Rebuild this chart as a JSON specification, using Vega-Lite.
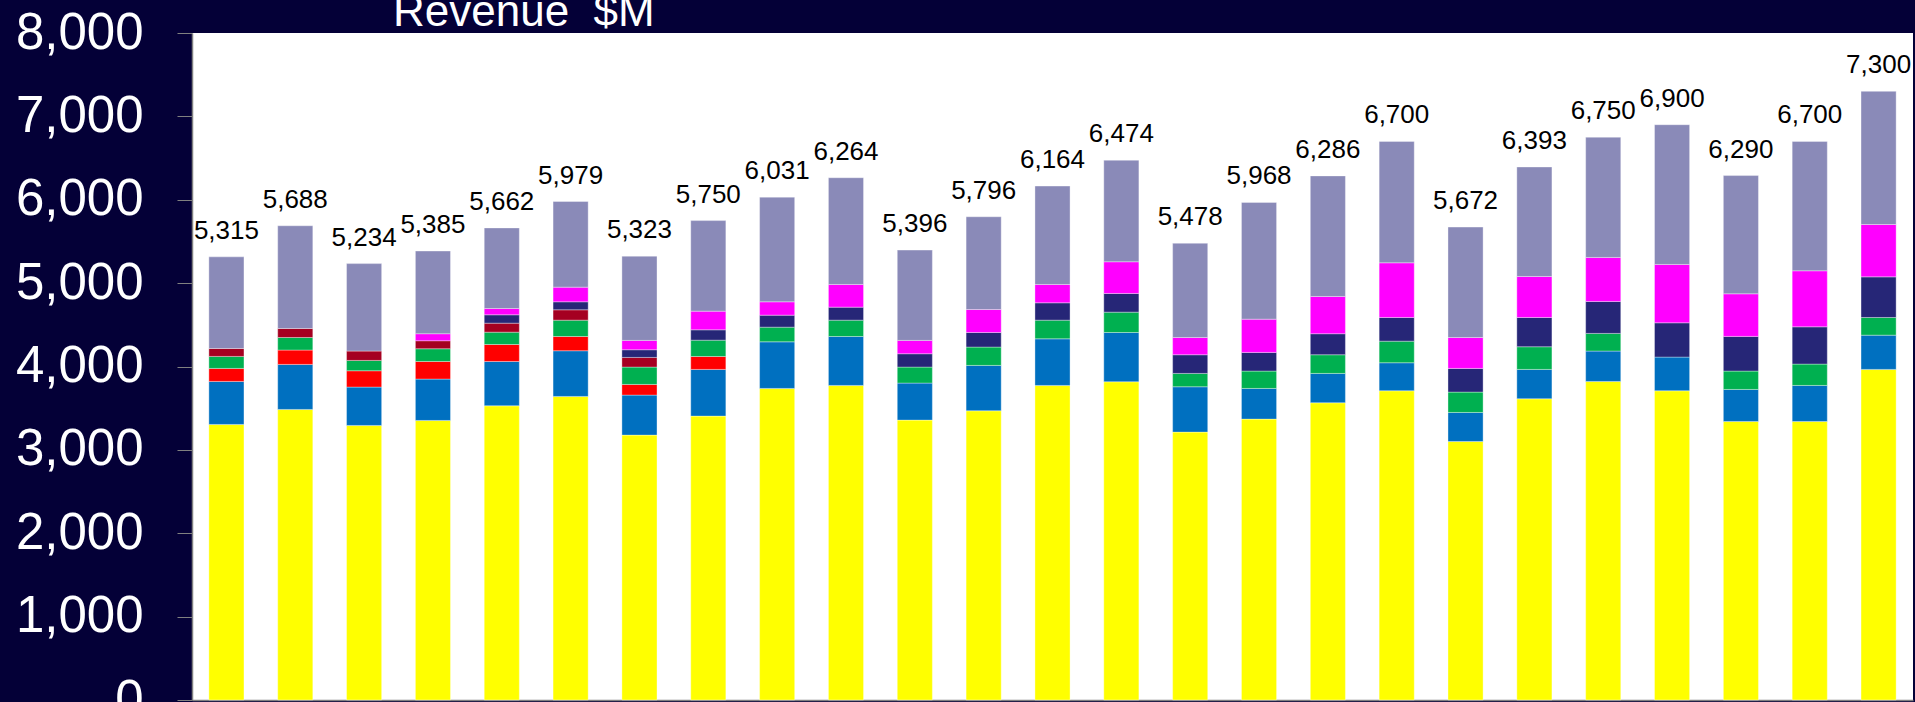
{
  "$schema": "https://vega.github.io/schema/vega-lite/v6.json",
  "width": 1721,
  "height": 667,
  "autosize": {"type": "none"},
  "padding": {"left": 192, "top": 33, "right": 2, "bottom": 2},
  "background": "#040037",
  "config": {"view": {"fill": "#ffffff", "stroke": null}, "font": "Liberation Sans"},
  "title": {"text": "Revenue\u00a0 $M", "color": "#ffffff", "fontSize": 44, "fontWeight": "normal", "font": "Liberation Sans", "anchor": "start", "frame": "group", "dx": 201, "dy": 27, "baseline": "alphabetic", "offset": -36},
  "datasets": {
    "segments": [
      {"period": 1, "segment": "Segment 1", "value": 3305}, {"period": 1, "segment": "Segment 2", "value": 516}, {"period": 1, "segment": "Segment 3", "value": 156}, {"period": 1, "segment": "Segment 4", "value": 144}, {"period": 1, "segment": "Segment 5", "value": 95}, {"period": 1, "segment": "Segment 8", "value": 1099},
      {"period": 2, "segment": "Segment 1", "value": 3485}, {"period": 2, "segment": "Segment 2", "value": 540}, {"period": 2, "segment": "Segment 3", "value": 172}, {"period": 2, "segment": "Segment 4", "value": 151}, {"period": 2, "segment": "Segment 5", "value": 108}, {"period": 2, "segment": "Segment 8", "value": 1232},
      {"period": 3, "segment": "Segment 1", "value": 3293}, {"period": 3, "segment": "Segment 2", "value": 460}, {"period": 3, "segment": "Segment 3", "value": 196}, {"period": 3, "segment": "Segment 4", "value": 124}, {"period": 3, "segment": "Segment 5", "value": 112}, {"period": 3, "segment": "Segment 8", "value": 1049},
      {"period": 4, "segment": "Segment 1", "value": 3353}, {"period": 4, "segment": "Segment 2", "value": 496}, {"period": 4, "segment": "Segment 3", "value": 211}, {"period": 4, "segment": "Segment 4", "value": 153}, {"period": 4, "segment": "Segment 5", "value": 96}, {"period": 4, "segment": "Segment 7", "value": 84}, {"period": 4, "segment": "Segment 8", "value": 992},
      {"period": 5, "segment": "Segment 1", "value": 3529}, {"period": 5, "segment": "Segment 2", "value": 531}, {"period": 5, "segment": "Segment 3", "value": 204}, {"period": 5, "segment": "Segment 4", "value": 148}, {"period": 5, "segment": "Segment 5", "value": 108}, {"period": 5, "segment": "Segment 6", "value": 100}, {"period": 5, "segment": "Segment 7", "value": 76}, {"period": 5, "segment": "Segment 8", "value": 966},
      {"period": 6, "segment": "Segment 1", "value": 3641}, {"period": 6, "segment": "Segment 2", "value": 548}, {"period": 6, "segment": "Segment 3", "value": 171}, {"period": 6, "segment": "Segment 4", "value": 196}, {"period": 6, "segment": "Segment 5", "value": 124}, {"period": 6, "segment": "Segment 6", "value": 96}, {"period": 6, "segment": "Segment 7", "value": 176}, {"period": 6, "segment": "Segment 8", "value": 1027},
      {"period": 7, "segment": "Segment 1", "value": 3177}, {"period": 7, "segment": "Segment 2", "value": 480}, {"period": 7, "segment": "Segment 3", "value": 128}, {"period": 7, "segment": "Segment 4", "value": 208}, {"period": 7, "segment": "Segment 5", "value": 116}, {"period": 7, "segment": "Segment 6", "value": 92}, {"period": 7, "segment": "Segment 7", "value": 112}, {"period": 7, "segment": "Segment 8", "value": 1010},
      {"period": 8, "segment": "Segment 1", "value": 3405}, {"period": 8, "segment": "Segment 2", "value": 560}, {"period": 8, "segment": "Segment 3", "value": 155}, {"period": 8, "segment": "Segment 4", "value": 196}, {"period": 8, "segment": "Segment 6", "value": 124}, {"period": 8, "segment": "Segment 7", "value": 224}, {"period": 8, "segment": "Segment 8", "value": 1086},
      {"period": 9, "segment": "Segment 1", "value": 3737}, {"period": 9, "segment": "Segment 2", "value": 559}, {"period": 9, "segment": "Segment 4", "value": 176}, {"period": 9, "segment": "Segment 6", "value": 144}, {"period": 9, "segment": "Segment 7", "value": 160}, {"period": 9, "segment": "Segment 8", "value": 1255},
      {"period": 10, "segment": "Segment 1", "value": 3773}, {"period": 10, "segment": "Segment 2", "value": 587}, {"period": 10, "segment": "Segment 4", "value": 196}, {"period": 10, "segment": "Segment 6", "value": 156}, {"period": 10, "segment": "Segment 7", "value": 272}, {"period": 10, "segment": "Segment 8", "value": 1280},
      {"period": 11, "segment": "Segment 1", "value": 3357}, {"period": 11, "segment": "Segment 2", "value": 444}, {"period": 11, "segment": "Segment 4", "value": 192}, {"period": 11, "segment": "Segment 6", "value": 160}, {"period": 11, "segment": "Segment 7", "value": 160}, {"period": 11, "segment": "Segment 8", "value": 1083},
      {"period": 12, "segment": "Segment 1", "value": 3469}, {"period": 12, "segment": "Segment 2", "value": 544}, {"period": 12, "segment": "Segment 4", "value": 220}, {"period": 12, "segment": "Segment 6", "value": 175}, {"period": 12, "segment": "Segment 7", "value": 276}, {"period": 12, "segment": "Segment 8", "value": 1112},
      {"period": 13, "segment": "Segment 1", "value": 3773}, {"period": 13, "segment": "Segment 2", "value": 559}, {"period": 13, "segment": "Segment 4", "value": 224}, {"period": 13, "segment": "Segment 6", "value": 208}, {"period": 13, "segment": "Segment 7", "value": 220}, {"period": 13, "segment": "Segment 8", "value": 1180},
      {"period": 14, "segment": "Segment 1", "value": 3817}, {"period": 14, "segment": "Segment 2", "value": 591}, {"period": 14, "segment": "Segment 4", "value": 244}, {"period": 14, "segment": "Segment 6", "value": 224}, {"period": 14, "segment": "Segment 7", "value": 380}, {"period": 14, "segment": "Segment 8", "value": 1218},
      {"period": 15, "segment": "Segment 1", "value": 3213}, {"period": 15, "segment": "Segment 2", "value": 544}, {"period": 15, "segment": "Segment 4", "value": 160}, {"period": 15, "segment": "Segment 6", "value": 224}, {"period": 15, "segment": "Segment 7", "value": 207}, {"period": 15, "segment": "Segment 8", "value": 1130},
      {"period": 16, "segment": "Segment 1", "value": 3369}, {"period": 16, "segment": "Segment 2", "value": 368}, {"period": 16, "segment": "Segment 4", "value": 208}, {"period": 16, "segment": "Segment 6", "value": 224}, {"period": 16, "segment": "Segment 7", "value": 399}, {"period": 16, "segment": "Segment 8", "value": 1400},
      {"period": 17, "segment": "Segment 1", "value": 3565}, {"period": 17, "segment": "Segment 2", "value": 352}, {"period": 17, "segment": "Segment 4", "value": 224}, {"period": 17, "segment": "Segment 6", "value": 252}, {"period": 17, "segment": "Segment 7", "value": 447}, {"period": 17, "segment": "Segment 8", "value": 1446},
      {"period": 18, "segment": "Segment 1", "value": 3709}, {"period": 18, "segment": "Segment 2", "value": 336}, {"period": 18, "segment": "Segment 4", "value": 259}, {"period": 18, "segment": "Segment 6", "value": 284}, {"period": 18, "segment": "Segment 7", "value": 656}, {"period": 18, "segment": "Segment 8", "value": 1456},
      {"period": 19, "segment": "Segment 1", "value": 3101}, {"period": 19, "segment": "Segment 2", "value": 348}, {"period": 19, "segment": "Segment 4", "value": 244}, {"period": 19, "segment": "Segment 6", "value": 284}, {"period": 19, "segment": "Segment 7", "value": 371}, {"period": 19, "segment": "Segment 8", "value": 1324},
      {"period": 20, "segment": "Segment 1", "value": 3613}, {"period": 20, "segment": "Segment 2", "value": 352}, {"period": 20, "segment": "Segment 4", "value": 272}, {"period": 20, "segment": "Segment 6", "value": 351}, {"period": 20, "segment": "Segment 7", "value": 492}, {"period": 20, "segment": "Segment 8", "value": 1313},
      {"period": 21, "segment": "Segment 1", "value": 3821}, {"period": 21, "segment": "Segment 2", "value": 364}, {"period": 21, "segment": "Segment 4", "value": 212}, {"period": 21, "segment": "Segment 6", "value": 383}, {"period": 21, "segment": "Segment 7", "value": 528}, {"period": 21, "segment": "Segment 8", "value": 1442},
      {"period": 22, "segment": "Segment 1", "value": 3709}, {"period": 22, "segment": "Segment 2", "value": 404}, {"period": 22, "segment": "Segment 6", "value": 411}, {"period": 22, "segment": "Segment 7", "value": 700}, {"period": 22, "segment": "Segment 8", "value": 1676},
      {"period": 23, "segment": "Segment 1", "value": 3341}, {"period": 23, "segment": "Segment 2", "value": 384}, {"period": 23, "segment": "Segment 4", "value": 220}, {"period": 23, "segment": "Segment 6", "value": 416}, {"period": 23, "segment": "Segment 7", "value": 511}, {"period": 23, "segment": "Segment 8", "value": 1418},
      {"period": 24, "segment": "Segment 1", "value": 3341}, {"period": 24, "segment": "Segment 2", "value": 432}, {"period": 24, "segment": "Segment 4", "value": 256}, {"period": 24, "segment": "Segment 6", "value": 447}, {"period": 24, "segment": "Segment 7", "value": 672}, {"period": 24, "segment": "Segment 8", "value": 1552},
      {"period": 25, "segment": "Segment 1", "value": 3965}, {"period": 25, "segment": "Segment 2", "value": 411}, {"period": 25, "segment": "Segment 4", "value": 212}, {"period": 25, "segment": "Segment 6", "value": 487}, {"period": 25, "segment": "Segment 7", "value": 628}, {"period": 25, "segment": "Segment 8", "value": 1597}
    ],
    "totals": [
      {"period": 1, "total": 5315}, {"period": 2, "total": 5688}, {"period": 3, "total": 5234}, {"period": 4, "total": 5385}, {"period": 5, "total": 5662},
      {"period": 6, "total": 5979}, {"period": 7, "total": 5323}, {"period": 8, "total": 5750}, {"period": 9, "total": 6031}, {"period": 10, "total": 6264},
      {"period": 11, "total": 5396}, {"period": 12, "total": 5796}, {"period": 13, "total": 6164}, {"period": 14, "total": 6474}, {"period": 15, "total": 5478},
      {"period": 16, "total": 5968}, {"period": 17, "total": 6286}, {"period": 18, "total": 6700}, {"period": 19, "total": 5672}, {"period": 20, "total": 6393},
      {"period": 21, "total": 6750}, {"period": 22, "total": 6900}, {"period": 23, "total": 6290}, {"period": 24, "total": 6700}, {"period": 25, "total": 7300}
    ]
  },
  "encoding": {
    "x": {"field": "period", "type": "ordinal", "scale": {"paddingInner": 0.49, "paddingOuter": 0.245},
      "axis": {"title": null, "labels": false, "ticks": false, "domainColor": "#808080", "domainWidth": 1.5}},
    "y": {"type": "quantitative", "scale": {"domain": [0, 8000], "nice": false},
      "axis": {"title": null, "values": [0, 1000, 2000, 3000, 4000, 5000, 6000, 7000, 8000], "format": ",.0f", "labelFontSize": 51, "labelColor": "#ffffff", "labelFont": "Liberation Sans", "labelPadding": 34, "tickSize": 15, "tickColor": "#808080", "domainColor": "#808080", "domainWidth": 1.5, "grid": false, "labelOverlap": false, "labelFlush": false}}
  },
  "layer": [
    {
      "data": {"name": "segments"},
      "mark": {"type": "bar", "stroke": "#ffffff", "strokeOpacity": 0.35, "strokeWidth": 1},
      "encoding": {
        "y": {"field": "value", "type": "quantitative", "stack": "zero"},
        "color": {"field": "segment", "type": "nominal", "legend": null,
          "scale": {"domain": ["Segment 1", "Segment 2", "Segment 3", "Segment 4", "Segment 5", "Segment 6", "Segment 7", "Segment 8"],
            "range": ["#FFFF00", "#0070C0", "#FF0000", "#00B050", "#A50021", "#262677", "#FF00FF", "#8A8AB8"]}},
        "order": {"field": "segment", "sort": "ascending"}
      }
    },
    {
      "data": {"name": "totals"},
      "mark": {"type": "text", "fontSize": 26, "color": "#000000", "baseline": "alphabetic", "dy": -18, "font": "Liberation Sans"},
      "encoding": {
        "y": {"field": "total", "type": "quantitative"},
        "text": {"field": "total", "type": "quantitative", "format": ","}
      }
    }
  ]
}
